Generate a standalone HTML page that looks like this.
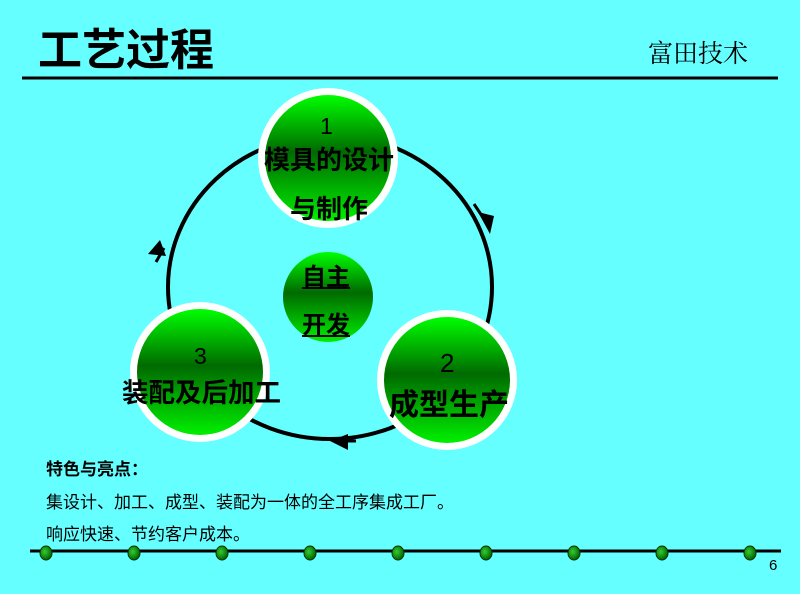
<!DOCTYPE html>
<html><head><meta charset="utf-8"><style>
body{margin:0;width:800px;height:594px;background:#66ffff;overflow:hidden;position:relative;font-family:"Liberation Sans","Noto Sans CJK SC",sans-serif}
.t{position:absolute;white-space:nowrap}
</style></head><body>
<svg width="800" height="594" style="position:absolute;left:0;top:0">
<defs>
<linearGradient id="g" x1="0" y1="0" x2="0" y2="1">
<stop offset="0" stop-color="#00ff00"/><stop offset="0.45" stop-color="#006a00"/><stop offset="1" stop-color="#00f000"/></linearGradient>
<radialGradient id="d" cx="0.4" cy="0.4" r="0.6"><stop offset="0" stop-color="#33cc33"/><stop offset="1" stop-color="#006600"/></radialGradient>
</defs>
<line x1="22" y1="78" x2="778" y2="78" stroke="#000" stroke-width="3"/>
<ellipse cx="330" cy="287" rx="162" ry="152" fill="none" stroke="#000" stroke-width="4"/>
<polygon points="478,212 494,216 490,234" fill="#000"/>
<line x1="474" y1="204" x2="486" y2="222" stroke="#000" stroke-width="3"/>
<polygon points="348,434 348,450 330,441" fill="#000"/>
<line x1="340" y1="441" x2="356" y2="441" stroke="#000" stroke-width="3"/>
<polygon points="148,254 166,256 160,240" fill="#000"/>
<line x1="156" y1="262" x2="164" y2="248" stroke="#000" stroke-width="3"/>
<circle cx="328" cy="158" r="70" fill="#fff"/><circle cx="328" cy="158" r="63" fill="url(#g)"/>
<circle cx="447" cy="380" r="70" fill="#fff"/><circle cx="447" cy="380" r="63" fill="url(#g)"/>
<circle cx="200" cy="372" r="70" fill="#fff"/><circle cx="200" cy="372" r="63" fill="url(#g)"/>
<circle cx="328" cy="297" r="45" fill="url(#g)"/>
<line x1="30" y1="551" x2="781" y2="551" stroke="#000" stroke-width="3"/>
<g fill="url(#d)" stroke="#003300" stroke-width="1">
<ellipse cx="46" cy="553" rx="6" ry="7"/><ellipse cx="134" cy="553" rx="6" ry="7"/><ellipse cx="222" cy="553" rx="6" ry="7"/><ellipse cx="310" cy="553" rx="6" ry="7"/><ellipse cx="398" cy="553" rx="6" ry="7"/><ellipse cx="486" cy="553" rx="6" ry="7"/><ellipse cx="574" cy="553" rx="6" ry="7"/><ellipse cx="662" cy="553" rx="6" ry="7"/><ellipse cx="750" cy="553" rx="6" ry="7"/>
</g>
</svg>
<div class="t" style="left:38px;top:14px;font-size:44px;font-weight:bold">工艺过程</div>
<div class="t" style="left:648px;top:34px;font-size:25px;font-family:'Liberation Serif','Noto Serif CJK SC',serif">富田技术</div>
<div class="t" style="left:320px;top:113px;font-size:23px">1</div>
<div class="t" style="left:264px;top:140px;font-size:26px;font-weight:bold">模具的设计</div>
<div class="t" style="left:290px;top:189px;font-size:26px;font-weight:bold">与制作</div>
<div class="t" style="left:440px;top:348px;font-size:26px">2</div>
<div class="t" style="left:389px;top:380px;font-size:30px;font-weight:bold">成型生产</div>
<div class="t" style="left:194px;top:343px;font-size:23px">3</div>
<div class="t" style="left:122px;top:371px;font-size:26.5px;font-weight:bold">装配及后加工</div>
<div class="t" style="left:302px;top:257px;font-size:24px;font-weight:bold;text-decoration:underline">自主</div>
<div class="t" style="left:302px;top:305px;font-size:24px;font-weight:bold;text-decoration:underline">开发</div>
<div class="t" style="left:46px;top:455px;font-size:17px;font-weight:bold">特色与亮点：</div>
<div class="t" style="left:46px;top:488px;font-size:17px">集设计、加工、成型、装配为一体的全工序集成工厂。</div>
<div class="t" style="left:46px;top:520px;font-size:17px">响应快速、节约客户成本。</div>
<div class="t" style="left:769px;top:557px;font-size:15px">6</div>
</body></html>
